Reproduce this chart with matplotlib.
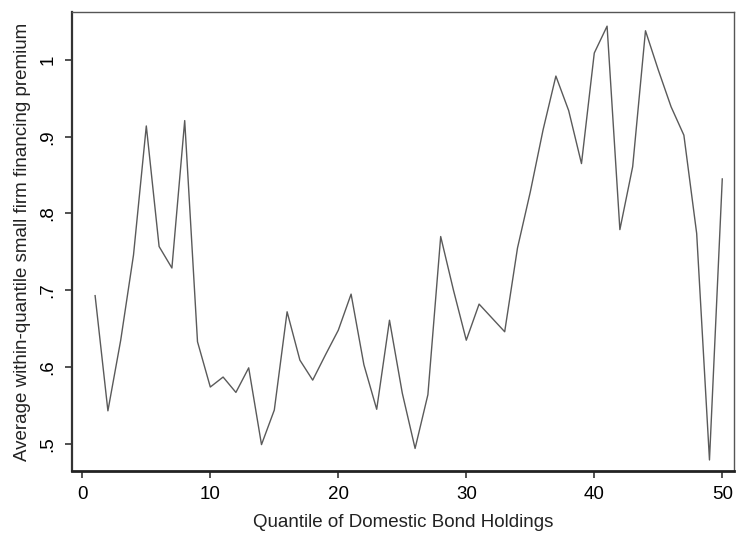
import matplotlib
matplotlib.use("Agg")
import matplotlib.pyplot as plt
from matplotlib.ticker import FuncFormatter

# average within-quantile premium for each of the 50 quantiles
quantiles = list(range(1, 51))
premium = [
    0.693, 0.543, 0.635, 0.746, 0.914, 0.757, 0.729, 0.921, 0.633, 0.574,
    0.587, 0.567, 0.599, 0.499, 0.544, 0.672, 0.609, 0.583, 0.616, 0.648,
    0.695, 0.603, 0.545, 0.661, 0.566, 0.494, 0.564, 0.770, 0.700, 0.635,
    0.682, 0.664, 0.646, 0.755, 0.828, 0.909, 0.979, 0.934, 0.865, 1.009,
    1.044, 0.779, 0.861, 1.038, 0.987, 0.939, 0.902, 0.774, 0.479, 0.845,
]
xticks = [0, 10, 20, 30, 40, 50]
yticks = [0.5, 0.6, 0.7, 0.8, 0.9, 1.0]

plt.rcParams['font.family'] = ['Liberation Sans', 'DejaVu Sans']

fig = plt.figure(figsize=(7.36, 5.36), dpi=100)
ax = fig.add_axes([0.0974, 0.1218, 0.8996, 0.8552])

ax.plot(quantiles, premium, color='#5a5a5a', linewidth=1.0)

ax.set_xlim(-0.83, 50.9)
ax.set_ylim(0.465, 1.062)
ax.set_xticks(xticks)
ax.set_yticks(yticks)


def short_fmt(v, pos):
    s = ('%g' % round(v, 2))
    return s[1:] if s.startswith('0.') else s


ax.yaxis.set_major_formatter(FuncFormatter(short_fmt))
ax.tick_params(axis='both', direction='out', length=5, width=1.2,
               color='#333333', labelsize=13.5, pad=6)
for lab in ax.get_yticklabels():
    lab.set_rotation(90)
    lab.set_va('center')

for sp in ax.spines.values():
    sp.set_color('#555555')
    sp.set_linewidth(1.0)
ax.spines['left'].set_linewidth(1.6)
ax.spines['bottom'].set_linewidth(2.0)
ax.spines['left'].set_color('#333333')
ax.spines['bottom'].set_color('#222222')

ax.set_xlabel("Quantile of Domestic Bond Holdings", fontsize=13.5,
              color='#222222', labelpad=8)
ax.set_ylabel("Average within-quantile small firm financing premium",
              fontsize=13.5, color='#222222', labelpad=6)

fig.savefig("out.png", dpi=100)
